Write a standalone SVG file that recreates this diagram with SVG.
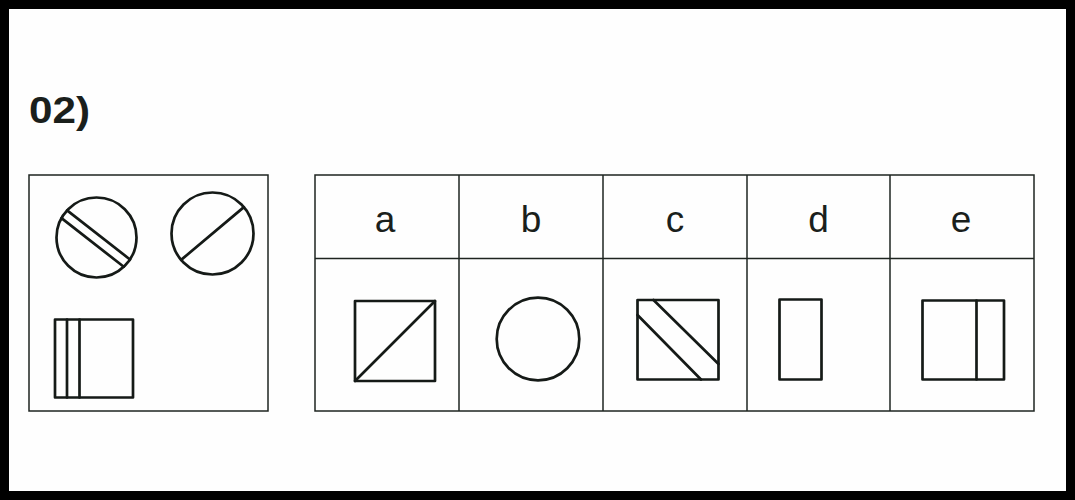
<svg xmlns="http://www.w3.org/2000/svg" width="1075" height="500" viewBox="0 0 1075 500">
<style>
.frame{fill:none;stroke:#1e2420;stroke-width:1.5}
.shape{fill:none;stroke:#151a17;stroke-width:2.7;stroke-linejoin:round;stroke-linecap:round}
.lbl{font-family:"Liberation Sans",Arial,sans-serif;font-size:37px;fill:#1a1f1c;text-anchor:middle}
.title{font-family:"Liberation Sans",Arial,sans-serif;font-size:37px;font-weight:bold;fill:#1a1f1c}
</style>
<rect x="0" y="0" width="1075" height="500" fill="#000"/>
<rect x="9" y="9" width="1057" height="482" fill="#fefefe"/>
<text class="title" x="29" y="123" textLength="61" lengthAdjust="spacingAndGlyphs">02)</text>
<g id="question">
<rect class="frame" x="29" y="175" width="239" height="236"/>
<g id="q-circle1">
<circle class="shape" cx="96.5" cy="237.5" r="40"/>
<g transform="translate(96.5 237.5) rotate(38)">
<line class="shape" x1="-39.9" y1="-3.3" x2="39.9" y2="-3.3"/>
<line class="shape" x1="-39.5" y1="6.3" x2="39.5" y2="6.3"/>
</g>
</g>
<g id="q-circle2">
<circle class="shape" cx="212.5" cy="233.5" r="41"/>
<line class="shape" x1="243.9" y1="207.1" x2="181.1" y2="259.9"/>
</g>
<g id="q-square">
<rect class="shape" x="55" y="319.5" width="78" height="78"/>
<line class="shape" x1="67" y1="319.5" x2="67" y2="397.5"/>
<line class="shape" x1="79.5" y1="319.5" x2="79.5" y2="397.5"/>
</g>
</g>
<g id="grid">
<rect class="frame" x="315" y="175" width="719" height="236"/>
<line class="frame" x1="315" y1="258.5" x2="1034" y2="258.5"/>
<line class="frame" x1="459" y1="175" x2="459" y2="411"/>
<line class="frame" x1="603" y1="175" x2="603" y2="411"/>
<line class="frame" x1="747" y1="175" x2="747" y2="411"/>
<line class="frame" x1="890" y1="175" x2="890" y2="411"/>
</g>
<g id="opt-a">
<text class="lbl" x="385" y="232">a</text>
<rect class="shape" x="355" y="301" width="80" height="80"/>
<line class="shape" x1="355" y1="381" x2="435" y2="301"/>
</g>
<g id="opt-b">
<text class="lbl" x="531" y="232">b</text>
<circle class="shape" cx="538" cy="339" r="41.3"/>
</g>
<g id="opt-c">
<text class="lbl" x="675" y="232">c</text>
<rect class="shape" x="637.5" y="300" width="81" height="79.5"/>
<line class="shape" x1="653.5" y1="300" x2="718.5" y2="364"/>
<line class="shape" x1="637.5" y1="315" x2="701" y2="379.5"/>
</g>
<g id="opt-d">
<text class="lbl" x="818.5" y="232">d</text>
<rect class="shape" x="779.5" y="299.5" width="42" height="80"/>
</g>
<g id="opt-e">
<text class="lbl" x="961" y="232">e</text>
<rect class="shape" x="922.5" y="300.5" width="81.5" height="79"/>
<line class="shape" x1="976.5" y1="300.5" x2="976.5" y2="379.5"/>
</g>
</svg>
